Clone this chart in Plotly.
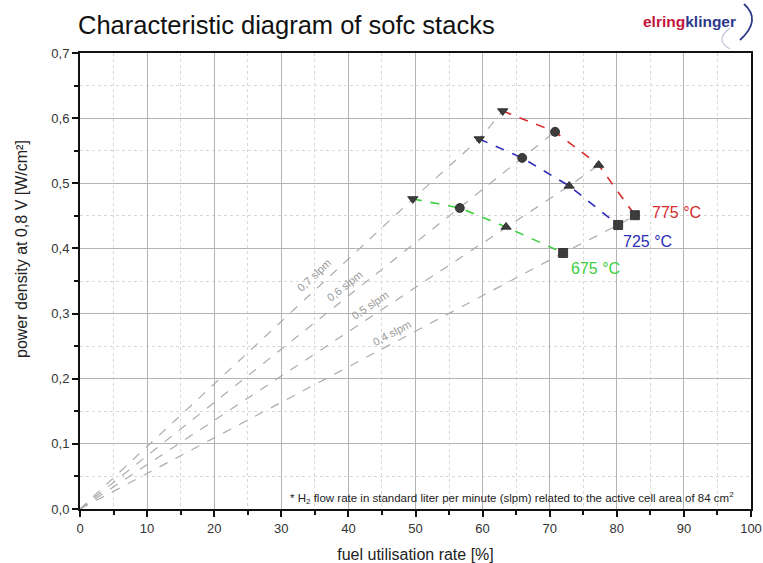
import math
import plotly.graph_objects as go

# ---------------- data ----------------
flow_labels = ["0,7 slpm", "0,6 slpm", "0,5 slpm", "0,4 slpm"]
marker_symbols = ["triangle-down", "circle", "triangle-up", "square"]

temp_labels = ["775 °C", "725 °C", "675 °C"]
temp_colors = ["#d62a2a", "#2b2bb8", "#3ccf3c"]

util_775 = [63.0, 70.8, 77.3, 82.7]
pd_775 = [0.611, 0.579, 0.528, 0.451]
util_725 = [59.5, 65.9, 72.9, 80.2]
pd_725 = [0.568, 0.539, 0.496, 0.436]
util_675 = [49.6, 56.6, 63.5, 72.0]
pd_675 = [0.476, 0.462, 0.433, 0.393]

x_ticks = [0, 10, 20, 30, 40, 50, 60, 70, 80, 90, 100]
y_ticks = [0.0, 0.1, 0.2, 0.3, 0.4, 0.5, 0.6, 0.7]

utils = [util_775, util_725, util_675]
pds = [pd_775, pd_725, pd_675]

# ---------------- layout geometry ----------------
W, H = 763, 563
ML, MR, MT, MB = 80, 12, 53, 54
PW, PH = W - ML - MR, H - MT - MB
X_RANGE = [0, 100]
Y_RANGE = [0, 0.7]
px_per_x = PW / (X_RANGE[1] - X_RANGE[0])
px_per_y = PH / (Y_RANGE[1] - Y_RANGE[0])

FONT = "Liberation Sans, Arial, sans-serif"

fig = go.Figure()

# gray flow-rate lines from origin through the points
for i, lab in enumerate(flow_labels):
    xs = [0] + [util_675[i], util_725[i], util_775[i]]
    ys = [0] + [pd_675[i], pd_725[i], pd_775[i]]
    fig.add_trace(go.Scatter(x=xs, y=ys, mode="lines",
                             line=dict(color="#ababab", width=1.2, dash="dash"),
                             showlegend=False, hoverinfo="skip"))
    frac = 0.57
    lx, ly = util_775[i] * frac, pd_775[i] * frac
    slope_px = (pd_775[i] / util_775[i]) * px_per_y / px_per_x
    ang = math.degrees(math.atan(slope_px))
    off = 10
    fig.add_annotation(x=lx, y=ly, text=lab, showarrow=False,
                       textangle=-ang,
                       xshift=-off * math.sin(math.radians(ang)),
                       yshift=off * math.cos(math.radians(ang)),
                       font=dict(family=FONT, size=11, color="#999999"))

# temperature curves
for t, (u, p, c) in enumerate(zip(utils, pds, temp_colors)):
    fig.add_trace(go.Scatter(x=u, y=p, mode="lines",
                             line=dict(color=c, width=1.6, dash="dash"),
                             showlegend=False, hoverinfo="skip"))

# markers
for t, (u, p) in enumerate(zip(utils, pds)):
    fig.add_trace(go.Scatter(x=u, y=p, mode="markers",
                             marker=dict(symbol=marker_symbols, size=9,
                                         color="#3d3d3d",
                                         line=dict(color="#222222", width=0.8)),
                             showlegend=False))

# temperature labels next to the squares
shifts = [(15, 3), (3, -17), (6, -16)]
for t in range(3):
    fig.add_annotation(x=utils[t][3], y=pds[t][3], text=temp_labels[t],
                       showarrow=False, xanchor="left", yanchor="middle",
                       xshift=shifts[t][0], yshift=shifts[t][1],
                       font=dict(family=FONT, size=16, color=temp_colors[t]))

def paper_x(px):
    return (px - ML) / PW

def paper_y(py):
    return (H - MB - py) / PH

# title
fig.add_annotation(xref="paper", yref="paper", x=paper_x(76), y=paper_y(25),
                   xanchor="left", yanchor="middle", showarrow=False,
                   text="Characteristic diagram of sofc stacks",
                   font=dict(family=FONT, size=25.5, color="#111111"))

# y axis title (placed like the reference, above centre)
fig.add_annotation(xref="paper", yref="paper", x=paper_x(21), y=paper_y(249),
                   xanchor="center", yanchor="middle", showarrow=False,
                   textangle=-90,
                   text="power density at 0,8 V [W/cm²]",
                   font=dict(family=FONT, size=16, color="#222222"))

# logo
fig.add_annotation(xref="paper", yref="paper", x=paper_x(738), y=paper_y(21),
                   xanchor="right", yanchor="middle", showarrow=False,
                   text="<b><span style='color:#c4143c'>elring</span><span style='color:#2d3a8c'>klinger</span></b>",
                   font=dict(family="Liberation Sans Narrow, Liberation Sans, Arial", size=15.5))
fig.add_shape(type="path", xref="paper", yref="paper",
              path=f"M {paper_x(744)} {paper_y(4)} Q {paper_x(762)} {paper_y(20)} {paper_x(740)} {paper_y(40)}",
              line=dict(color="#2d3a8c", width=1.8))
fig.add_shape(type="path", xref="paper", yref="paper",
              path=f"M {paper_x(730)} {paper_y(28)} Q {paper_x(714)} {paper_y(40)} {paper_x(730)} {paper_y(49)}",
              line=dict(color="#c0c4d8", width=1.2))

# footnote
fig.add_annotation(xref="paper", yref="paper", x=paper_x(736), y=paper_y(498),
                   xanchor="right", yanchor="middle", showarrow=False,
                   text="* H<sub>2</sub> flow rate in standard liter per minute (slpm) related to the active cell area of 84 cm<sup>2</sup>",
                   font=dict(family=FONT, size=11.5, color="#222222"))

axis_common = dict(
    showline=True, linecolor="#111111", linewidth=2, mirror=True,
    ticks="outside", tickcolor="#111111", tickwidth=2, ticklen=6,
    showgrid=True, gridcolor="#b4b4b4", gridwidth=1,
    zeroline=False, automargin=False,
    tickfont=dict(family=FONT, size=13, color="#333333"),
)

fig.update_xaxes(range=X_RANGE, tickvals=x_ticks, ticktext=[str(v) for v in x_ticks],
                 minor=dict(dtick=5, ticks="outside", ticklen=4, tickwidth=2, tickcolor="#111111",
                            showgrid=True, gridcolor="#d8d8d8", griddash="dot", gridwidth=1),
                 title=dict(text="fuel utilisation rate [%]", standoff=14,
                            font=dict(family=FONT, size=16, color="#222222")),
                 **axis_common)
fig.update_yaxes(range=Y_RANGE, tickvals=y_ticks,
                 ticktext=[f"{v:.1f}".replace(".", ",") for v in y_ticks],
                 minor=dict(dtick=0.05, ticks="outside", ticklen=4, tickwidth=2, tickcolor="#111111",
                            showgrid=True, gridcolor="#d8d8d8", griddash="dot", gridwidth=1),
                 **axis_common)

fig.update_layout(
    width=W, height=H,
    margin=dict(l=ML, r=MR, t=MT, b=MB, autoexpand=False),
    paper_bgcolor="white", plot_bgcolor="white",
    showlegend=False,
)

fig.write_html("out.html")
